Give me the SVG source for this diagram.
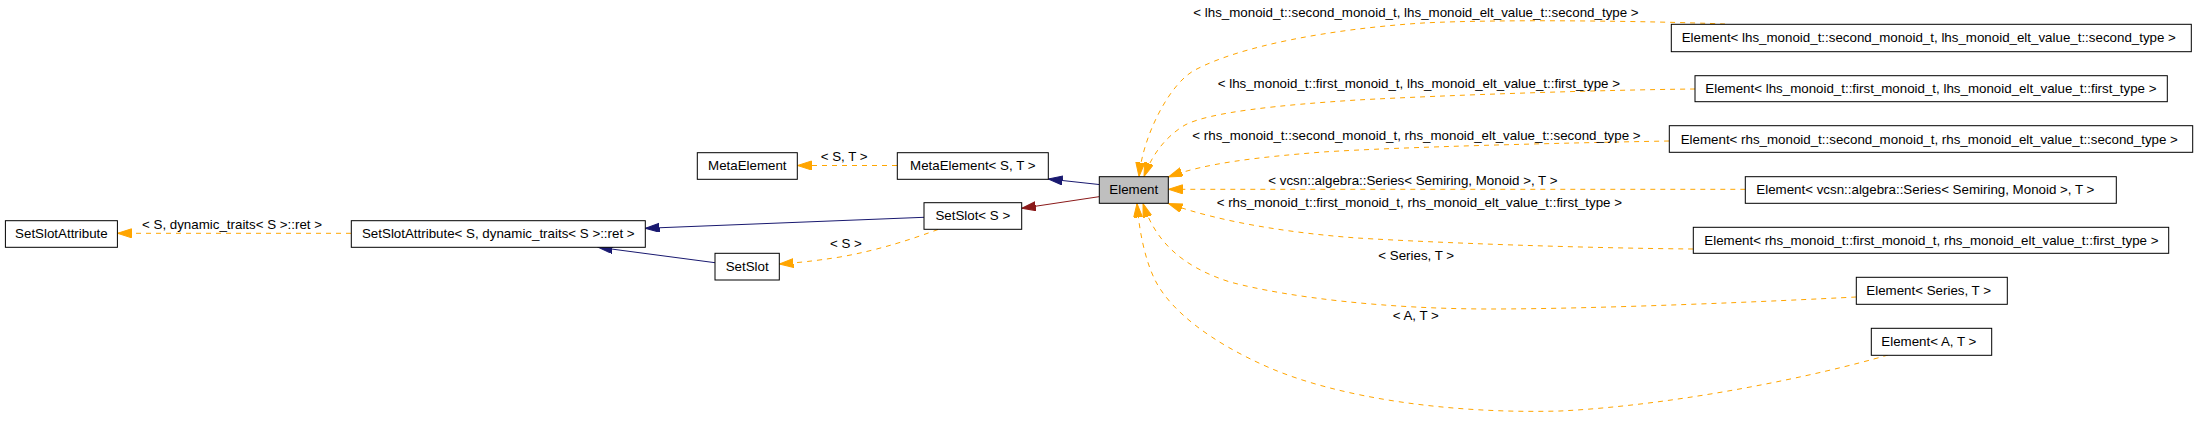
<svg xmlns="http://www.w3.org/2000/svg" width="2197" height="439" viewBox="0 0 2197 439">
<style>
text{font-family:"Liberation Sans",Arial,sans-serif;font-size:13.33px;fill:#000}
.n rect{fill:#fff;stroke:#000;stroke-width:1}
.n text{text-anchor:middle}
.r text{text-anchor:start}
.lbl{text-anchor:start}
.dash{fill:none;stroke:#ffa500;stroke-width:1;stroke-dasharray:5,5}
.blue{fill:none;stroke:#191970;stroke-width:1}
.red{fill:none;stroke:#8b1a1a;stroke-width:1}
</style>
<defs>
<marker id="ao" markerUnits="userSpaceOnUse" markerWidth="15" markerHeight="10" refX="14" refY="4.5" orient="auto"><path d="M0,0 L14,4.5 L0,9 z" fill="#ffa500" stroke="#ffa500" stroke-width="1"/></marker>
<marker id="ab" markerUnits="userSpaceOnUse" markerWidth="15" markerHeight="10" refX="14" refY="4.5" orient="auto"><path d="M0,0 L14,4.5 L0,9 z" fill="#191970" stroke="#191970" stroke-width="1"/></marker>
<marker id="ar" markerUnits="userSpaceOnUse" markerWidth="15" markerHeight="10" refX="14" refY="4.5" orient="auto"><path d="M0,0 L14,4.5 L0,9 z" fill="#8b1a1a" stroke="#8b1a1a" stroke-width="1"/></marker>
</defs>
<rect x="0" y="0" width="2197" height="439" fill="#fff"/>

<g id="connectors">
<path class="dash" d="M351,233.3 L117.5,233.3" marker-end="url(#ao)"/>
<path class="dash" d="M897,165.5 L797.5,165.5" marker-end="url(#ao)"/>
<path class="blue" d="M1099,184.5 L1048.5,179" marker-end="url(#ab)"/>
<path class="red" d="M1099,196.7 L1021.8,208.3" marker-end="url(#ar)"/>
<path class="blue" d="M924,217.3 L645.5,228.3" marker-end="url(#ab)"/>
<path class="blue" d="M715,262.7 L598.5,247.3" marker-end="url(#ab)"/>
<path class="dash" d="M938,229.5 C915,238 880,250 840,257 C815,261 795,263 779.5,264" marker-end="url(#ao)"/>
<path class="dash" d="M1725,24 C1650,21 1500,19 1423,23 C1330,29 1240,46 1195,70 C1170,83 1143,135 1139,176.5" marker-end="url(#ao)"/>
<path class="dash" d="M1695,89 C1600,90 1450,95 1357,100 C1280,105 1210,112 1185,125 C1165,137 1152,155 1144,176.5" marker-end="url(#ao)"/>
<path class="dash" d="M1669,141 C1560,143 1400,147 1323,152 C1260,157 1205,163 1168.5,177" marker-end="url(#ao)"/>
<path class="dash" d="M1745.3,189.3 L1168.5,189.3" marker-end="url(#ao)"/>
<path class="dash" d="M1693,249 C1580,248 1440,243 1357,238 C1290,233 1220,222 1168.5,203.5" marker-end="url(#ao)"/>
<path class="dash" d="M1856,297 C1780,301 1600,309 1490,309 C1390,309 1290,298 1230,282 C1180,266 1155,240 1143,203.5" marker-end="url(#ao)"/>
<path class="dash" d="M1888,355 C1820,375 1680,405 1560,411 C1450,414 1340,398 1270,368 C1210,342 1170,310 1155,280 C1145,260 1139,230 1137,203.5" marker-end="url(#ao)"/>
<text class="lbl" x="142" y="229">&lt; S, dynamic_traits&lt; S &gt;::ret &gt;</text>
<text class="lbl" x="820.7" y="161">&lt; S, T &gt;</text>
<text class="lbl" x="830" y="247.5">&lt; S &gt;</text>
<text class="lbl" x="1193.3" y="17">&lt; lhs_monoid_t::second_monoid_t, lhs_monoid_elt_value_t::second_type &gt;</text>
<text class="lbl" x="1217.7" y="88">&lt; lhs_monoid_t::first_monoid_t, lhs_monoid_elt_value_t::first_type &gt;</text>
<text class="lbl" x="1192.3" y="139.5">&lt; rhs_monoid_t::second_monoid_t, rhs_monoid_elt_value_t::second_type &gt;</text>
<text class="lbl" x="1268.3" y="185">&lt; vcsn::algebra::Series&lt; Semiring, Monoid &gt;, T &gt;</text>
<text class="lbl" x="1216.7" y="207">&lt; rhs_monoid_t::first_monoid_t, rhs_monoid_elt_value_t::first_type &gt;</text>
<text class="lbl" x="1378.3" y="260">&lt; Series, T &gt;</text>
<text class="lbl" x="1392.7" y="320">&lt; A, T &gt;</text>
</g>

<g id="n_SetSlotAttribute" class="n"><rect x="5.4" y="220.7" width="112" height="26.6"/><text x="61.4" y="238">SetSlotAttribute</text></g>
<g id="n_SetSlotAttributeT" class="n"><rect x="351.3" y="220.7" width="294" height="26.6"/><text x="498.3" y="238">SetSlotAttribute&lt; S, dynamic_traits&lt; S &gt;::ret &gt;</text></g>
<g id="n_MetaElement" class="n"><rect x="697.3" y="152.7" width="100" height="26.6"/><text x="747.3" y="170">MetaElement</text></g>
<g id="n_MetaElementST" class="n"><rect x="897.3" y="152.7" width="151" height="26.6"/><text x="972.8" y="170">MetaElement&lt; S, T &gt;</text></g>
<g id="n_Element" class="n"><rect x="1099.3" y="176.7" width="69" height="26.6" style="fill:#bfbfbf"/><text x="1133.8" y="194">Element</text></g>
<g id="n_SetSlotS" class="n"><rect x="924" y="202.7" width="97.7" height="26.6"/><text x="972.8" y="220">SetSlot&lt; S &gt;</text></g>
<g id="n_SetSlot" class="n"><rect x="715" y="253.3" width="64.3" height="26.7"/><text x="747.2" y="270.7">SetSlot</text></g>

<g id="n_E_lhs_second" class="n r"><rect x="1671.3" y="24.3" width="520" height="27.4"/><text x="1681.7" y="42.3">Element&lt; lhs_monoid_t::second_monoid_t, lhs_monoid_elt_value_t::second_type &gt;</text></g>
<g id="n_E_lhs_first" class="n r"><rect x="1695" y="75.7" width="472.3" height="26"/><text x="1705.3" y="93.2">Element&lt; lhs_monoid_t::first_monoid_t, lhs_monoid_elt_value_t::first_type &gt;</text></g>
<g id="n_E_rhs_second" class="n r"><rect x="1669.3" y="125.7" width="523.4" height="26.6"/><text x="1680.7" y="143.5">Element&lt; rhs_monoid_t::second_monoid_t, rhs_monoid_elt_value_t::second_type &gt;</text></g>
<g id="n_E_vcsn" class="n r"><rect x="1745.3" y="176.7" width="371" height="26.6"/><text x="1756.3" y="194">Element&lt; vcsn::algebra::Series&lt; Semiring, Monoid &gt;, T &gt;</text></g>
<g id="n_E_rhs_first" class="n r"><rect x="1693.3" y="227.3" width="475.4" height="26"/><text x="1704.3" y="244.8">Element&lt; rhs_monoid_t::first_monoid_t, rhs_monoid_elt_value_t::first_type &gt;</text></g>
<g id="n_E_Series" class="n r"><rect x="1856.3" y="277.3" width="151" height="27"/><text x="1866.3" y="295">Element&lt; Series, T &gt;</text></g>
<g id="n_E_A" class="n r"><rect x="1871.3" y="328.3" width="120.4" height="27"/><text x="1881.3" y="346">Element&lt; A, T &gt;</text></g>
</svg>
